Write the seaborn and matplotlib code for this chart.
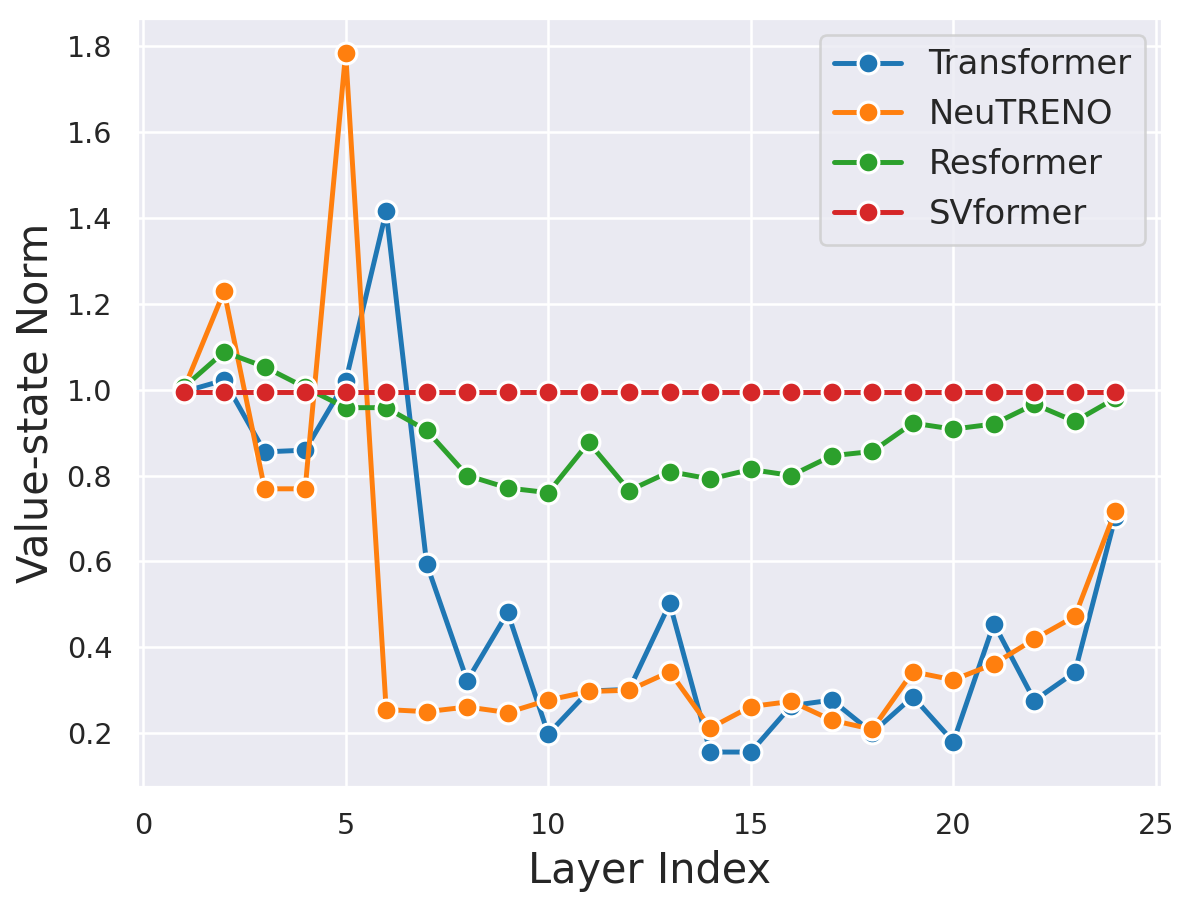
import matplotlib
matplotlib.use('Agg')
import matplotlib.pyplot as plt
import pandas as pd
import seaborn as sns
import numpy as np

layers = list(range(1, 25))

transformer = [0.995, 1.022, 0.855, 0.859, 1.019, 1.415, 0.594, 0.322, 0.481, 0.198,
               0.298, 0.302, 0.502, 0.156, 0.156, 0.264, 0.277, 0.201, 0.285, 0.180,
               0.455, 0.276, 0.342, 0.704]
neutreno = [1.000, 1.229, 0.769, 0.769, 1.784, 0.255, 0.250, 0.261, 0.248, 0.277,
            0.297, 0.300, 0.343, 0.212, 0.262, 0.274, 0.230, 0.209, 0.343, 0.324,
            0.361, 0.419, 0.472, 0.718]
resformer = [1.005, 1.088, 1.053, 1.005, 0.958, 0.958, 0.905, 0.800, 0.771, 0.760,
             0.877, 0.765, 0.809, 0.792, 0.814, 0.800, 0.846, 0.856, 0.922, 0.908,
             0.920, 0.966, 0.926, 0.980]
svformer = [0.995] * 24

models = ['Transformer', 'NeuTRENO', 'Resformer', 'SVformer']
series = [transformer, neutreno, resformer, svformer]

df = pd.concat([pd.DataFrame({'Layer Index': layers, 'Value-state Norm': s, 'Model': m})
                for m, s in zip(models, series)], ignore_index=True)

sns.set_theme(style='darkgrid')
fig = plt.figure(figsize=(1196 / 187, 905 / 187), dpi=187)
ax = fig.add_axes([137 / 1196, 1 - 787 / 905, (1162 - 137) / 1196, (787 - 18) / 905])

sns.lineplot(data=df, x='Layer Index', y='Value-state Norm', hue='Model',
             palette='tab10', marker='o', markersize=8, linewidth=1.9,
             markeredgecolor='white', markeredgewidth=1.2, ax=ax)

ax.set_xlabel('Layer Index', fontsize=16)
ax.set_ylabel('Value-state Norm', fontsize=16)
ax.tick_params(labelsize=11)
ax.set_xticks([0, 5, 10, 15, 20, 25])
ax.set_yticks([0.2, 0.4, 0.6, 0.8, 1.0, 1.2, 1.4, 1.6, 1.8])
ax.legend(title=None, fontsize=13, loc='upper right')

fig.savefig('out.png', dpi=187)
